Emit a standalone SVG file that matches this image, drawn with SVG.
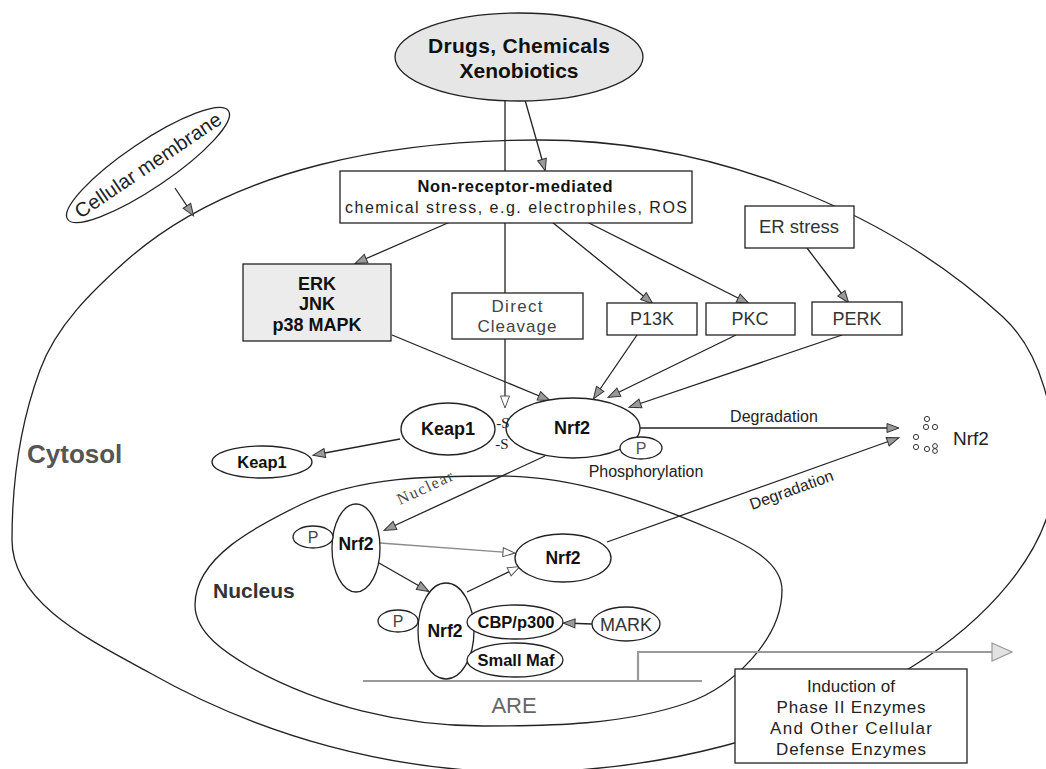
<svg xmlns="http://www.w3.org/2000/svg" width="1046" height="769" viewBox="0 0 1046 769">
<defs>
<style>
.ln{fill:none;stroke:#222;stroke-width:1.3}
.lg{fill:none;stroke:#8a8a8a;stroke-width:1.3}
.are{fill:none;stroke:#9a9a9a;stroke-width:2.2}
.bx{fill:#fff;stroke:#222;stroke-width:1.3}
.el{fill:#fff;stroke:#222;stroke-width:1.3}
.t{font-family:"Liberation Sans",Arial,sans-serif;fill:#222;text-anchor:middle}
.b{font-weight:bold;fill:#111}
.s{font-family:"Liberation Serif","Times New Roman",serif}
</style>
<marker id="ah" viewBox="0 0 12 10" refX="11" refY="5" markerWidth="12" markerHeight="10" markerUnits="userSpaceOnUse" orient="auto" overflow="visible"><path d="M0,0.5 L12,5 L0,9.5 Z" fill="#9a9a9a" stroke="#333" stroke-width="1"/></marker>
<marker id="ao" viewBox="0 0 12 10" refX="11" refY="5" markerWidth="12" markerHeight="10" markerUnits="userSpaceOnUse" orient="auto" overflow="visible"><path d="M0,0.5 L12,5 L0,9.5 Z" fill="#fff" stroke="#555" stroke-width="1"/></marker>
<marker id="big" viewBox="0 0 20 18" refX="20" refY="9" markerWidth="20" markerHeight="18" markerUnits="userSpaceOnUse" orient="auto" overflow="visible"><path d="M0,0 L20,9 L0,18 Z" fill="#e2e2e2" stroke="#999" stroke-width="1.2"/></marker>
</defs>
<rect width="1046" height="769" fill="#fff"/>

<g id="cell-membrane">
<path class="ln" d="M540,140 C705,140 881,205 1003,317 C1043,354 1055,416 1055,470 C1055,552 980,625 910,668 C795,738 655,772 520,772 C392,772 261,736 150,673 C94,642 12,604 12,540 C12,483 20,424 40,370 C56,326 92,291 127,260 C234,166 397,140 540,140 Z"/>
<text class="t b" x="27" y="463" font-size="26" style="text-anchor:start;fill:#555">Cytosol</text>
</g>

<g id="nucleus">
<path class="ln" d="M195,605 C195,557 257,526 300,505 C360,476 433,476 500,476 C573,476 646,501 713,530 C741,542 782,560 782,590 C782,639 733,687 687,703 C623,725 551,726 483,726 C403,726 320,706 250,667 C226,653 195,633 195,605 Z"/>
<text class="t b" x="213" y="598" font-size="21" style="text-anchor:start;fill:#333">Nucleus</text>
</g>

<g id="connectors">
<path class="ln" d="M505,100 L505,171"/>
<path class="ln" d="M525,100 L545,170" marker-end="url(#ah)"/>
<path class="ln" d="M450,222 L356,263" marker-end="url(#ah)"/>
<path class="ln" d="M505,223 L505,293"/>
<path class="ln" d="M552,222 L652,303" marker-end="url(#ah)"/>
<path class="ln" d="M587,222 L748,303" marker-end="url(#ah)"/>
<path class="ln" d="M807,248 L848,302" marker-end="url(#ah)"/>
<path class="ln" d="M392,335 L549,400" marker-end="url(#ah)"/>
<path class="ln" d="M505,339 L505,407" marker-end="url(#ao)"/>
<path class="ln" d="M637,335 L594,398" marker-end="url(#ah)"/>
<path class="ln" d="M736,335 L609,397" marker-end="url(#ah)"/>
<path class="ln" d="M842,335 L630,407" marker-end="url(#ah)"/>
<path class="ln" d="M400,439 L314,455" marker-end="url(#ah)"/>
<path class="ln" d="M640,428 L898,428" marker-end="url(#ah)"/>
<path class="ln" d="M545,456 L385,530" marker-end="url(#ah)"/>
<path class="lg" d="M380,543 L514,553" marker-end="url(#ao)"/>
<path class="ln" d="M379,563 L428,591" marker-end="url(#ah)"/>
<path class="ln" d="M467,592 L519,567" marker-end="url(#ao)"/>
<path class="ln" d="M607,542 L898,438" marker-end="url(#ah)"/>
<path class="ln" d="M592,624 L564,623" marker-end="url(#ah)"/>
<path class="ln" d="M175,188 L193,215" marker-end="url(#ah)"/>
<path class="are" d="M363,681 L702,681"/>
<path class="are" d="M638,681 L638,652 L1012,652" marker-end="url(#big)"/>
<text class="t" x="774" y="422" font-size="16" textLength="88">Degradation</text>
<text class="t" x="752" y="510" font-size="16" textLength="88" style="text-anchor:start" transform="rotate(-20 752 510)">Degradation</text>
<text class="t s" x="400" y="505" font-size="16" textLength="60" style="text-anchor:start;fill:#444" transform="rotate(-25 400 505)">Nuclear</text>
</g>

<g id="drugs">
<ellipse cx="519" cy="57" rx="124" ry="44" fill="#e6e6e6" stroke="#222" stroke-width="1.3"/>
<text class="t b" x="519" y="53" font-size="21" textLength="182">Drugs, Chemicals</text>
<text class="t b" x="519" y="78" font-size="21">Xenobiotics</text>
</g>

<g id="cellular-membrane">
<g transform="translate(148,165) rotate(-34)">
<ellipse cx="0" cy="0" rx="97" ry="23" class="el"/>
<text class="t" x="0" y="7" font-size="20" textLength="172">Cellular membrane</text>
</g>
</g>

<g id="non-receptor">
<rect class="bx" x="340" y="171" width="352" height="52"/>
<text class="t b" x="515" y="192" font-size="16.5" textLength="195">Non-receptor-mediated</text>
<text class="t" x="516" y="213" font-size="16" textLength="342">chemical stress, e.g. electrophiles, ROS</text>
</g>

<g id="erk">
<rect x="243" y="264" width="148" height="77" fill="#ececec" stroke="#222" stroke-width="1.3"/>
<text class="t b" x="317" y="290" font-size="18">ERK</text>
<text class="t b" x="317" y="310" font-size="18">JNK</text>
<text class="t b" x="317" y="331" font-size="18">p38 MAPK</text>
</g>

<g id="direct-cleavage">
<rect class="bx" x="452" y="293" width="131" height="46"/>
<text class="t" x="517" y="312" font-size="17" textLength="51" style="fill:#444">Direct</text>
<text class="t" x="517" y="332" font-size="17" textLength="79" style="fill:#444">Cleavage</text>
</g>

<g id="p13k">
<rect class="bx" x="607" y="303" width="90" height="32"/>
<text class="t" x="652" y="325" font-size="18" style="fill:#333">P13K</text>
</g>

<g id="pkc">
<rect class="bx" x="706" y="303" width="89" height="32"/>
<text class="t" x="750" y="325" font-size="18" style="fill:#333">PKC</text>
</g>

<g id="perk">
<rect class="bx" x="812" y="302" width="90" height="33"/>
<text class="t" x="857" y="325" font-size="18" style="fill:#333">PERK</text>
</g>

<g id="er-stress">
<rect class="bx" x="745" y="206" width="109" height="42"/>
<text class="t" x="799" y="233" font-size="18.5" style="fill:#333">ER stress</text>
</g>

<g id="keap1">
<ellipse class="el" cx="448" cy="429" rx="47" ry="26"/>
<text class="t b" x="448" y="435" font-size="18">Keap1</text>
</g>

<g id="keap1-free">
<ellipse class="el" cx="262" cy="462" rx="50" ry="16"/>
<text class="t b" x="262" y="468" font-size="16.5">Keap1</text>
</g>

<g id="nrf2-cyto">
<ellipse class="el" cx="573" cy="428" rx="67" ry="30"/>
<text class="t b" x="572" y="434" font-size="18">Nrf2</text>
<ellipse class="el" cx="641" cy="448" rx="21" ry="11"/>
<text class="t" x="641" y="454" font-size="16" style="fill:#555">P</text>
<text class="t" x="646" y="477" font-size="16">Phosphorylation</text>
</g>

<g id="disulfide">
<text class="t s" x="503" y="428" font-size="15">-S</text>
<text class="t s" x="502" y="449" font-size="15">-S</text>
</g>

<g id="nrf2-degraded">
<g fill="none" stroke="#333" stroke-width="1">
<circle cx="927" cy="419" r="2.6"/>
<circle cx="926" cy="427" r="2.6"/>
<circle cx="935" cy="427" r="2.6"/>
<circle cx="916" cy="437" r="2.6"/>
<circle cx="916" cy="447" r="2.6"/>
<circle cx="927" cy="449" r="2.6"/>
<circle cx="935" cy="446" r="2.4"/>
<circle cx="935" cy="451" r="2.4"/>
</g>
<text class="t" x="953" y="445" font-size="19" style="text-anchor:start">Nrf2</text>
</g>

<g id="nrf2-nuc1">
<ellipse class="el" cx="356" cy="548" rx="24" ry="44"/>
<text class="t b" x="356" y="550" font-size="17.5">Nrf2</text>
<ellipse class="el" cx="313" cy="537" rx="20" ry="11"/>
<text class="t" x="313" y="543" font-size="16" style="fill:#444">P</text>
</g>

<g id="nrf2-nuc-free">
<ellipse class="el" cx="563" cy="558" rx="48" ry="24"/>
<text class="t b" x="563" y="564" font-size="17.5">Nrf2</text>
</g>

<g id="nrf2-nuc2">
<ellipse class="el" cx="446" cy="631" rx="28" ry="48"/>
<text class="t b" x="445" y="637" font-size="17.5">Nrf2</text>
<ellipse class="el" cx="398" cy="621" rx="20" ry="11"/>
<text class="t" x="398" y="627" font-size="16" style="fill:#444">P</text>
</g>

<g id="cbp">
<ellipse class="el" cx="515" cy="622" rx="48" ry="17"/>
<text class="t b" x="516" y="628" font-size="16.5">CBP/p300</text>
</g>

<g id="smallmaf">
<ellipse class="el" cx="515" cy="660" rx="48" ry="17"/>
<text class="t b" x="516" y="666" font-size="16.5">Small Maf</text>
</g>

<g id="mark">
<ellipse class="el" cx="626" cy="624" rx="34" ry="17"/>
<text class="t" x="626" y="631" font-size="18" style="fill:#333">MARK</text>
</g>

<g id="are">
<text class="t" x="514" y="713" font-size="22" style="fill:#666">ARE</text>
</g>

<g id="induction">
<rect class="bx" x="735" y="669" width="232" height="94"/>
<text class="t" x="851" y="692" font-size="17">Induction of</text>
<text class="t" x="851" y="713" font-size="17" textLength="149">Phase II Enzymes</text>
<text class="t" x="851" y="734" font-size="17" textLength="162">And Other Cellular</text>
<text class="t" x="851" y="755" font-size="17" textLength="150">Defense Enzymes</text>
</g>
</svg>
